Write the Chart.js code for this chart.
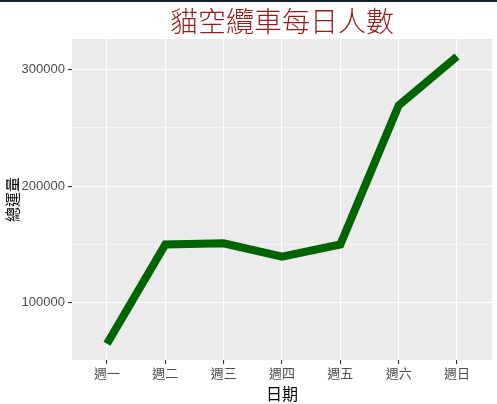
<!DOCTYPE html>
<html>
<head>
<meta charset="utf-8">
<script src="https://cdn.jsdelivr.net/npm/chart.js@4/dist/chart.umd.min.js"></script>
<style>
  html, body { margin: 0; padding: 0; background: #fff; }
  #wrap { width: 497px; height: 404px; position: relative; }
  #topbar { position: absolute; left: 0; top: 0; width: 497px; height: 2px; background: #13202e; }
</style>
</head>
<body>
<div id="wrap">
  <canvas id="chart" width="497" height="404"></canvas>
  <div id="topbar"></div>
</div>
<script>
const days = ['週一', '週二', '週三', '週四', '週五', '週六', '週日'];
const riders = [65000, 150000, 151000, 139500, 150000, 269000, 311000];
const yTicks = [100000, 150000, 200000, 250000, 300000];

const titleText = '貓空纜車每日人數';

// title centred over the panel, like ggplot
const panelTitle = {
  id: 'panelTitle',
  afterDraw(chart) {
    const { ctx, chartArea } = chart;
    ctx.save();
    ctx.font = '300 28px "Noto Sans CJK TC"';
    ctx.fillStyle = '#991a1a';
    ctx.textAlign = 'center';
    ctx.textBaseline = 'middle';
    ctx.fillText(titleText, (chartArea.left + chartArea.right) / 2, 21);
    ctx.restore();
  }
};

// grey panel background
const panelBg = {
  id: 'panelBg',
  beforeDraw(chart) {
    const { ctx, chartArea: a } = chart;
    ctx.save();
    ctx.fillStyle = '#ebebeb';
    ctx.fillRect(a.left, a.top, a.right - a.left, a.bottom - a.top);
    ctx.restore();
  }
};

new Chart(document.getElementById('chart').getContext('2d'), {
  type: 'line',
  data: {
    datasets: [{
      data: riders.map((v, i) => ({ x: i, y: v })),
      borderColor: '#006400',
      borderWidth: 8,
      pointRadius: 0,
      tension: 0,
      borderCapStyle: 'butt',
      borderJoinStyle: 'miter'
    }]
  },
  options: {
    responsive: false,
    animation: false,
    layout: { padding: { top: 39, right: 5, left: 0, bottom: 0 } },
    plugins: { legend: { display: false }, tooltip: { enabled: false } },
    scales: {
      x: {
        type: 'linear',
        min: -0.6,
        max: 6.6,
        afterBuildTicks: s => { s.ticks = days.map((d, i) => ({ value: i })); },
        afterFit: s => { s.height = 44; },
        grid: { color: '#ffffff', lineWidth: 1.1, tickColor: '#333333', tickLength: 4, drawTicks: true },
        border: { display: false },
        ticks: {
          callback: v => days[v],
          color: '#4d4d4d',
          font: { family: '"Noto Sans CJK TC"', size: 13 },
          padding: 1,
          maxRotation: 0,
          autoSkip: false
        },
        title: {
          display: true,
          text: '日期',
          color: '#000000',
          font: { family: '"Noto Sans CJK TC"', size: 16 },
          padding: { top: 4, bottom: 0 }
        }
      },
      y: {
        min: 51000,
        max: 326000,
        afterBuildTicks: s => { s.ticks = yTicks.map(v => ({ value: v })); },
        afterFit: s => { s.width = 72; },
        grid: {
          color: '#ffffff',
          lineWidth: c => (c.tick && c.tick.value % 100000 === 0 ? 1.1 : 0.55),
          tickColor: c => (c.tick && c.tick.value % 100000 === 0 ? '#333333' : 'rgba(0,0,0,0)'),
          tickLength: 4
        },
        border: { display: false },
        ticks: {
          callback: v => (v % 100000 === 0 ? String(v) : ''),
          color: '#4d4d4d',
          font: { family: '"Liberation Sans", Arial', size: 13 },
          padding: 3
        },
        title: {
          display: true,
          text: '總運量',
          color: '#000000',
          font: { family: '"Noto Sans CJK TC"', size: 15 },
          padding: { top: 3, bottom: 0 }
        }
      }
    }
  },
  plugins: [panelBg, panelTitle]
});
</script>
</body>
</html>
